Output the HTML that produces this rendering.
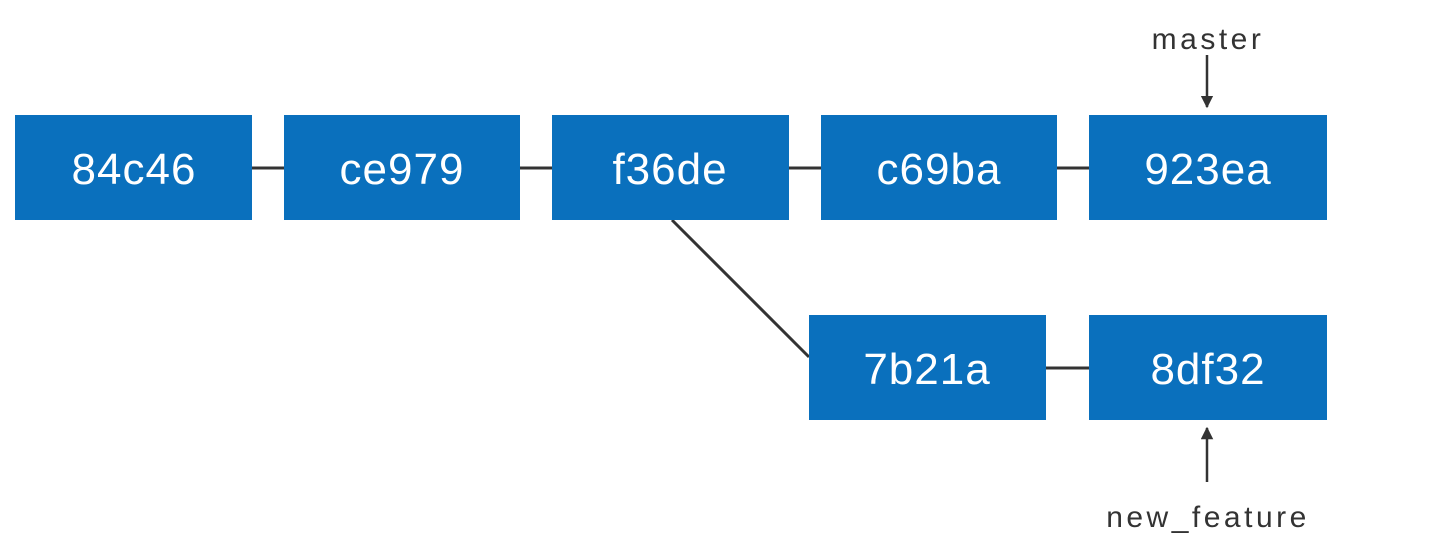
<!DOCTYPE html>
<html><head><meta charset="utf-8"><style>
body{margin:0;background:#fff;width:1448px;height:554px;overflow:hidden;font-family:"Liberation Sans",sans-serif}
</style></head><body>
<svg width="1448" height="554">
<defs><marker id="ah" viewBox="0 0 10 10" refX="9" refY="5" markerWidth="5" markerHeight="5" orient="auto"><path d="M0,0L10,5L0,10z" fill="#333"/></marker></defs>
<g stroke="#333" stroke-width="3">
<line x1="252" y1="168" x2="284" y2="168"/>
<line x1="520" y1="168" x2="552" y2="168"/>
<line x1="789" y1="168" x2="821" y2="168"/>
<line x1="1057" y1="168" x2="1089" y2="168"/>
<line x1="1046" y1="368" x2="1089" y2="368"/>
<line x1="672" y1="220" x2="809" y2="357"/>
</g>
<g fill="#0a70bd">
<rect x="15" y="115" width="237" height="105"/>
<rect x="284" y="115" width="236" height="105"/>
<rect x="552" y="115" width="237" height="105"/>
<rect x="821" y="115" width="236" height="105"/>
<rect x="1089" y="115" width="238" height="105"/>
<rect x="809" y="315" width="237" height="105"/>
<rect x="1089" y="315" width="238" height="105"/>
</g>
<g fill="#fff" font-size="44" letter-spacing="1" text-anchor="middle">
<text x="134" y="184">84c46</text>
<text x="402" y="184">ce979</text>
<text x="670" y="184">f36de</text>
<text x="939" y="184">c69ba</text>
<text x="1208" y="184">923ea</text>
<text x="927" y="384">7b21a</text>
<text x="1208" y="384">8df32</text>
</g>
<text x="1208" y="49" font-size="30" letter-spacing="3.5" fill="#333" text-anchor="middle">master</text>
<line x1="1207" y1="55" x2="1207" y2="107" stroke="#333" stroke-width="2.5" marker-end="url(#ah)"/>
<line x1="1207" y1="482" x2="1207" y2="428" stroke="#333" stroke-width="2.5" marker-end="url(#ah)"/>
<text x="1208" y="527" font-size="30" letter-spacing="3.5" fill="#333" text-anchor="middle">new_feature</text>
</svg>
</body></html>
